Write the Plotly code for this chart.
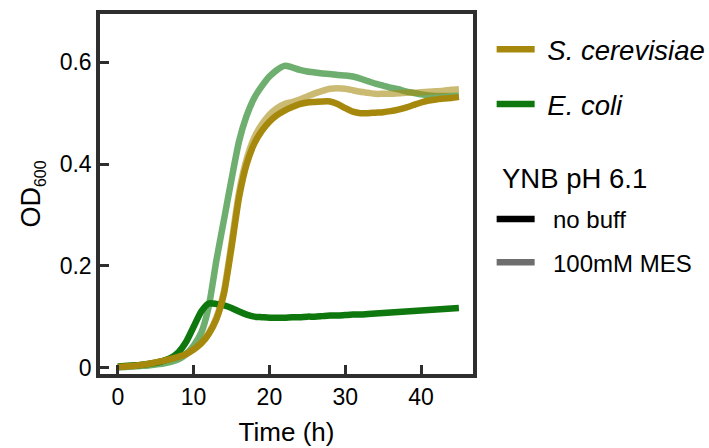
import plotly.graph_objects as go

time_h = list(range(0, 46))

ecoli_nobuff = [0.002, 0.003, 0.004, 0.005, 0.007, 0.009, 0.013, 0.019, 0.030, 0.050,
                0.080, 0.110, 0.126, 0.125, 0.122, 0.117, 0.110, 0.104, 0.100, 0.099,
                0.098, 0.098, 0.098, 0.099, 0.099, 0.100, 0.100, 0.101, 0.102, 0.102,
                0.103, 0.104, 0.104, 0.105, 0.106, 0.107, 0.108, 0.109, 0.110, 0.111,
                0.112, 0.113, 0.114, 0.115, 0.116, 0.117]

ecoli_mes = [0.000, 0.001, 0.002, 0.003, 0.004, 0.006, 0.008, 0.011, 0.016, 0.026,
             0.043, 0.068, 0.120, 0.210, 0.290, 0.370, 0.445, 0.495, 0.530, 0.553,
             0.572, 0.585, 0.593, 0.590, 0.585, 0.582, 0.580, 0.578, 0.577, 0.575,
             0.574, 0.572, 0.568, 0.563, 0.558, 0.554, 0.550, 0.547, 0.543, 0.540,
             0.537, 0.535, 0.534, 0.534, 0.534, 0.535]

scer_nobuff = [0.001, 0.002, 0.003, 0.005, 0.007, 0.010, 0.013, 0.017, 0.021, 0.026,
               0.035, 0.047, 0.066, 0.095, 0.145, 0.236, 0.335, 0.400, 0.440, 0.465,
               0.483, 0.496, 0.505, 0.512, 0.518, 0.521, 0.522, 0.523, 0.523, 0.518,
               0.510, 0.503, 0.500, 0.500, 0.501, 0.502, 0.504, 0.507, 0.511, 0.516,
               0.521, 0.525, 0.527, 0.529, 0.530, 0.532]

scer_mes = [0.002, 0.003, 0.004, 0.005, 0.007, 0.010, 0.013, 0.017, 0.022, 0.027,
            0.036, 0.049, 0.068, 0.098, 0.150, 0.245, 0.345, 0.410, 0.452, 0.478,
            0.497, 0.510, 0.518, 0.522, 0.527, 0.533, 0.539, 0.544, 0.548, 0.549,
            0.548, 0.545, 0.542, 0.540, 0.538, 0.538, 0.538, 0.539, 0.540, 0.540,
            0.541, 0.542, 0.543, 0.544, 0.546, 0.547]

x_ticks = [0, 10, 20, 30, 40]
y_ticks = [0, 0.2, 0.4, 0.6]
y_tick_labels = ["0", "0.2", "0.4", "0.6"]

GOLD = "rgb(166,137,12)"
GOLD_L = "rgba(166,137,12,0.58)"
GREEN = "rgb(14,120,14)"
GREEN_L = "rgba(14,120,14,0.6)"
FONT = "Liberation Sans, Arial, sans-serif"
LW = 6.5

fig = go.Figure()
series = [
    (ecoli_mes, GREEN_L),
    (scer_mes, GOLD_L),
    (ecoli_nobuff, GREEN),
    (scer_nobuff, GOLD),
]
for vals, col in series:
    fig.add_trace(go.Scatter(x=time_h, y=vals, mode="lines",
                             line=dict(color=col, width=LW, shape="spline", smoothing=0.6),
                             showlegend=False, hoverinfo="skip"))

# Legend entries
fig.add_trace(go.Scatter(x=[None], y=[None], mode="lines", name="&nbsp;<i>S. cerevisiae</i>",
                         line=dict(color=GOLD, width=LW), legend="legend", legendgroup="a"))
fig.add_trace(go.Scatter(x=[None], y=[None], mode="lines", name="&nbsp;<i>E. coli</i>",
                         line=dict(color=GREEN, width=LW), legend="legend", legendgroup="b"))
fig.add_trace(go.Scatter(x=[None], y=[None], mode="lines", name="&nbsp;&nbsp;no buff",
                         line=dict(color="black", width=LW), legend="legend2", legendgroup="c"))
fig.add_trace(go.Scatter(x=[None], y=[None], mode="lines", name="&nbsp;&nbsp;100mM MES",
                         line=dict(color="rgb(110,110,110)", width=LW), legend="legend2", legendgroup="d"))

axis_common = dict(showline=True, linewidth=3.5, linecolor="#2e2e2e", mirror=True,
                   ticks="inside", ticklen=9, tickwidth=3, tickcolor="#2e2e2e",
                   showgrid=False, zeroline=False, automargin=False,
                   tickfont=dict(family=FONT, size=23, color="black"))

fig.update_layout(
    width=709, height=448,
    margin=dict(l=100, r=236, t=14, b=74, autoexpand=False),
    paper_bgcolor="white", plot_bgcolor="white",
    font=dict(family=FONT, color="black"),
    xaxis=dict(range=[-2.35, 46.86], tickvals=x_ticks,
               title=dict(text="Time (h)", font=dict(size=26), standoff=14), **axis_common),
    yaxis=dict(range=[-0.0128, 0.695], tickvals=y_ticks, ticktext=y_tick_labels,
               title=dict(text="OD<sub><span style='font-size:16px'>600</span></sub>",
                          font=dict(size=27), standoff=12), **axis_common),
    legend=dict(x=1.05, xanchor="left", y=0.97, yanchor="top", traceorder="grouped",
                tracegroupgap=16, itemwidth=38, font=dict(size=27.5, family=FONT),
                bgcolor="rgba(0,0,0,0)"),
    legend2=dict(x=1.05, xanchor="left", y=0.492, yanchor="top", traceorder="grouped",
                 tracegroupgap=9, itemwidth=38, font=dict(size=24, family=FONT),
                 bgcolor="rgba(0,0,0,0)"),
    annotations=[dict(text="YNB pH 6.1", xref="paper", yref="paper", x=1.072, y=0.5417,
                      xanchor="left", yanchor="middle", showarrow=False,
                      font=dict(size=27.5, family=FONT, color="black"))],
)

fig.write_html("out.html")
